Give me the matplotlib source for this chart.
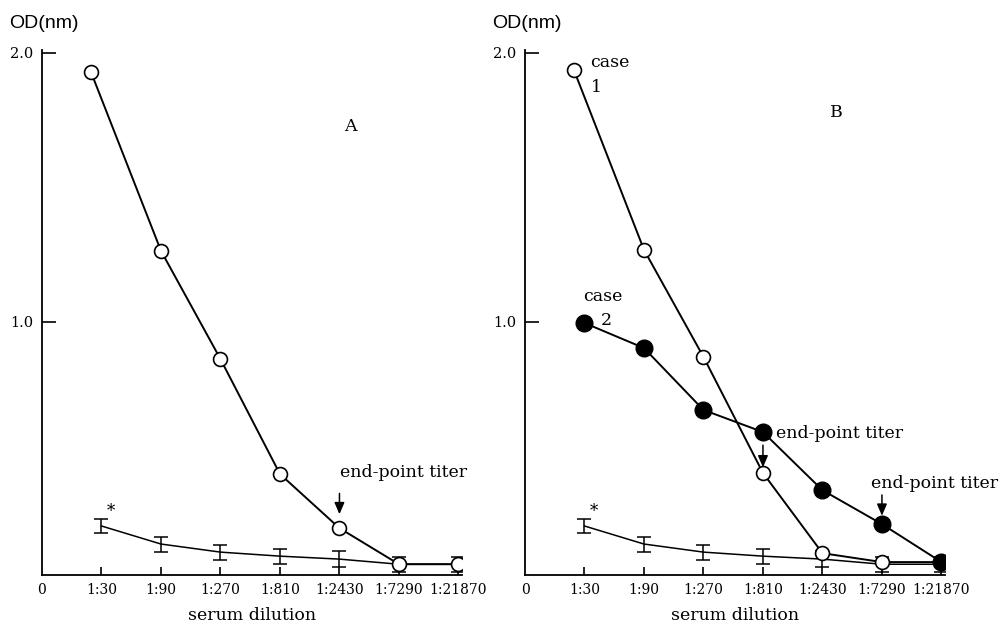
import numpy as np
import matplotlib
matplotlib.use('Agg')
import matplotlib.pyplot as plt

# serum dilutions on x, OD on y
dilutions = ['0', '1:30', '1:90', '1:270', '1:810', '1:2430', '1:7290', '1:21870']
case1_x = [0.82, 2, 3, 4, 5, 6, 7]
ctrl_x = [1, 2, 3, 4, 5, 6, 7]

case1_a = [1.93, 1.264, 0.862, 0.435, 0.234, 0.100, 0.100]
case1_b = [1.937, 1.268, 0.870, 0.439, 0.141, 0.108, 0.108]
case2_b = [0.996, 0.903, 0.673, 0.591, 0.375, 0.249, 0.108]
ctrl_mean = [0.242, 0.175, 0.145, 0.130, 0.119, 0.100, 0.100]
ctrl_sd = [0.026, 0.028, 0.028, 0.028, 0.030, 0.028, 0.028]

serif = 'DejaVu Serif'
plt.rcParams['font.family'] = serif
txt = 12.5

fig = plt.figure(figsize=(10.02, 6.25), dpi=100)
ax_a = fig.add_axes([42 / 1002, 0.08, 420 / 1002, 0.84])
ax_b = fig.add_axes([525 / 1002, 0.08, 420 / 1002, 0.84])


def setup(ax):
    ax.set_xlim(0, 7.06)
    ax.set_ylim(0.06, 2.01)
    for s in ['top', 'right']:
        ax.spines[s].set_visible(False)
    for s in ['left', 'bottom']:
        ax.spines[s].set_linewidth(1.3)
    ax.set_yticks([1.0, 2.0])
    ax.set_yticklabels(['1.0', '2.0'])
    ax.set_xticks(range(len(dilutions)))
    ax.set_xticklabels(dilutions)
    ax.tick_params(axis='y', direction='in', length=10, width=1.2, pad=6, labelsize=10.5)
    ax.tick_params(axis='x', direction='in', length=6, width=1.2, pad=6, labelsize=10)
    ax.xaxis.get_major_ticks()[0].tick1line.set_visible(False)
    ax.set_xlabel('serum dilution', fontsize=txt, labelpad=7)


def control(ax):
    ax.errorbar(ctrl_x, ctrl_mean, yerr=ctrl_sd, color='black', lw=1.1,
                elinewidth=1.1, capsize=5, capthick=1.1, zorder=2)
    ax.text(1.16, 0.297, '*', fontsize=12, ha='center', va='center')


def endpoint(ax, x, y, up, shrink):
    ax.annotate('', xy=(x, y), xytext=(0, up), textcoords='offset points',
                arrowprops=dict(arrowstyle='-|>,head_length=0.7,head_width=0.3',
                                color='black', lw=1.1, shrinkA=0, shrinkB=shrink))


# panel A
setup(ax_a)
control(ax_a)
ax_a.plot(case1_x, case1_a, '-o', color='black', lw=1.4, ms=10,
          mfc='white', mec='black', mew=1.2, zorder=3)
ax_a.text(5.19, 1.725, 'A', fontsize=txt, ha='center', va='center')
ax_a.text(6.07, 0.439, 'end-point titer', fontsize=txt, ha='center', va='center')
endpoint(ax_a, 5, case1_a[4], 25, 10)

# panel B
setup(ax_b)
control(ax_b)
ax_b.plot(case1_x, case1_b, '-o', color='black', lw=1.4, ms=10,
          mfc='white', mec='black', mew=1.2, zorder=3)
ax_b.plot(ctrl_x, case2_b, '-o', color='black', lw=1.4, ms=12,
          mfc='black', mec='black', zorder=4)
ax_b.text(5.24, 1.777, 'B', fontsize=txt, ha='center', va='center')
ax_b.text(1.10, 1.963, 'case', fontsize=txt, ha='left', va='center')
ax_b.text(1.10, 1.870, '1', fontsize=txt, ha='left', va='center')
ax_b.text(0.98, 1.093, 'case', fontsize=txt, ha='left', va='center')
ax_b.text(1.27, 1.007, '2', fontsize=txt, ha='left', va='center')
ax_b.text(4.22, 0.587, 'end-point titer', fontsize=txt, ha='left', va='center')
ax_b.text(6.89, 0.398, 'end-point titer', fontsize=txt, ha='center', va='center')
endpoint(ax_b, 4, case1_b[3], 20, 4)
endpoint(ax_b, 6, case2_b[5], 21, 6)

fig.text(9 / 1002, 1 - 23 / 625, 'OD(nm)', family='Liberation Sans', fontsize=14,
         ha='left', va='center')
fig.text(492 / 1002, 1 - 23 / 625, 'OD(nm)', family='Liberation Sans', fontsize=14,
         ha='left', va='center')

fig.savefig('out.png', dpi=100)
